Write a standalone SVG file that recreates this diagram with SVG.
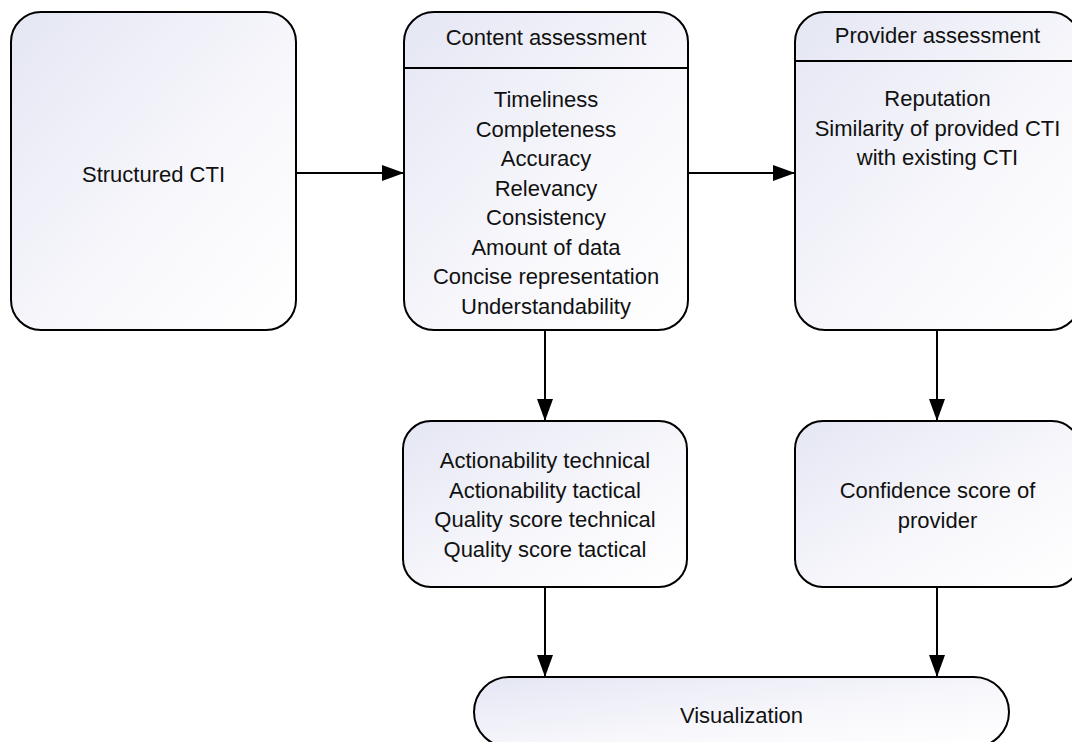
<svg xmlns="http://www.w3.org/2000/svg" width="1072" height="742" viewBox="0 0 1072 742">
<defs>
<linearGradient id="g" x1="0" y1="0" x2="1" y2="1">
<stop offset="0" stop-color="#e4e6f3"/>
<stop offset="0.6" stop-color="#f8f8fc"/>
<stop offset="1" stop-color="#ffffff"/>
</linearGradient>
<marker id="ah" viewBox="0 0 22 16" refX="22" refY="8" markerWidth="22" markerHeight="16" markerUnits="userSpaceOnUse" orient="auto">
<path d="M0,0 L22,8 L0,16 Z" fill="#000"/>
</marker>
<style>
.box{fill:url(#g);stroke:#000;stroke-width:2}
.sep{stroke:#000;stroke-width:2}
.t{font-family:"Liberation Sans",Arial,sans-serif;font-size:22px;fill:#111;text-anchor:middle}
.c{stroke:#000;stroke-width:2;fill:none;marker-end:url(#ah)}
</style>
</defs>
<rect width="1072" height="742" fill="#fff"/>
<g id="connectors">
<line class="c" x1="296" y1="173" x2="404" y2="173"/>
<line class="c" x1="688" y1="173" x2="795" y2="173"/>
<line class="c" x1="545" y1="330" x2="545" y2="421"/>
<line class="c" x1="937" y1="330" x2="937" y2="421"/>
<line class="c" x1="545" y1="587" x2="545" y2="677"/>
<line class="c" x1="937" y1="587" x2="937" y2="677"/>
</g>
<g id="structured-cti">
<rect class="box" x="11" y="12" width="285" height="318" rx="30"/>
<text class="t" x="153.5" y="182">Structured CTI</text>
</g>
<g id="content-assessment">
<rect class="box" x="404" y="12" width="284" height="318" rx="30"/>
<line class="sep" x1="404" y1="68" x2="688" y2="68"/>
<text class="t" x="546" y="45">Content assessment</text>
<text class="t" x="546" y="107">Timeliness</text>
<text class="t" x="546" y="136.5">Completeness</text>
<text class="t" x="546" y="166">Accuracy</text>
<text class="t" x="546" y="195.5">Relevancy</text>
<text class="t" x="546" y="225">Consistency</text>
<text class="t" x="546" y="254.5">Amount of data</text>
<text class="t" x="546" y="284">Concise representation</text>
<text class="t" x="546" y="313.5">Understandability</text>
</g>
<g id="provider-assessment">
<rect class="box" x="795" y="12" width="285" height="318" rx="30"/>
<line class="sep" x1="795" y1="61" x2="1080" y2="61"/>
<text class="t" x="937.5" y="43">Provider assessment</text>
<text class="t" x="937.5" y="106">Reputation</text>
<text class="t" x="937.5" y="135.5">Similarity of provided CTI</text>
<text class="t" x="937.5" y="165">with existing CTI</text>
</g>
<g id="actionability">
<rect class="box" x="403" y="421" width="284" height="166" rx="28"/>
<text class="t" x="545" y="468">Actionability technical</text>
<text class="t" x="545" y="497.5">Actionability tactical</text>
<text class="t" x="545" y="527">Quality score technical</text>
<text class="t" x="545" y="556.5">Quality score tactical</text>
</g>
<g id="confidence">
<rect class="box" x="795" y="421" width="285" height="166" rx="28"/>
<text class="t" x="937.5" y="498">Confidence score of</text>
<text class="t" x="937.5" y="527.5">provider</text>
</g>
<g id="visualization">
<rect class="box" x="474" y="677" width="535" height="70" rx="35"/>
<text class="t" x="741.5" y="723">Visualization</text>
</g>
</svg>
